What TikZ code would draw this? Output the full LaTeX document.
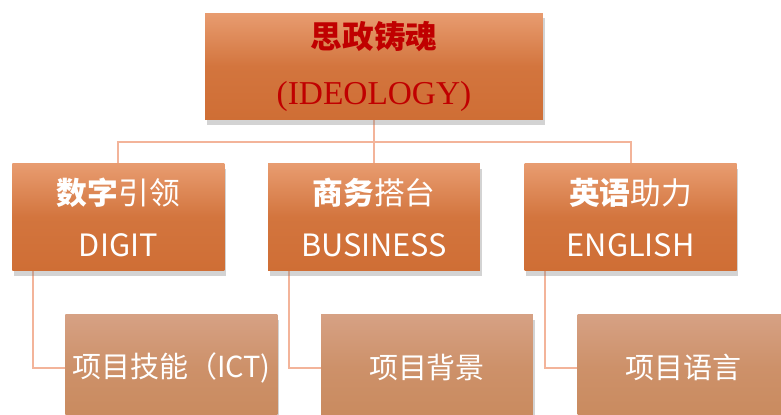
\documentclass[tikz,border=0pt]{standalone}
\usepackage{fontspec}
\setmainfont{Liberation Serif}
\newfontfamily\cjk{Noto Sans CJK SC}
\usetikzlibrary{positioning,shadows,backgrounds}
\definecolor{hitop}{HTML}{E89C70}
\definecolor{hibot}{HTML}{CF6E35}
\definecolor{lotop}{HTML}{D6A184}
\definecolor{lobot}{HTML}{C98A5E}
\definecolor{linkc}{HTML}{F3B49A}
\definecolor{titlered}{HTML}{C00000}

\begin{document}
\begin{tikzpicture}[x=0.02cm,y=-0.02cm,
	orgbox/.style={rectangle,inner sep=0pt,minimum width=4.24cm,minimum height=2.14cm,
		top color=hitop,bottom color=hibot,middle color=hibot!85!hitop,
		drop shadow={shadow xshift=1pt,shadow yshift=-3pt,opacity=0.35},
		text=white,align=center,font=\cjk\fontsize{17.5}{29.5}\selectfont},
	subbox/.style={orgbox,top color=lotop,bottom color=lobot,middle color=lobot!70!lotop,
		font=\cjk\fontsize{16.5}{20}\selectfont},
	link/.style={linkc,line width=1.2pt}]
	\useasboundingbox (0,0) rectangle (781,414);
	\clip (0,0) rectangle (781,414);
	% top level
	\node[orgbox,minimum width=6.76cm,text=titlered,font=\fontsize{19}{31.5}\selectfont] (ideo) at (374,66.5)
		{{\cjk\bfseries\fontsize{18}{18}\selectfont 思政铸魂}\\(IDEOLOGY)};
	% second level
	\node[orgbox,below=0.86cm of ideo] (busi) {{\bfseries 商务}搭台\\BUSINESS};
	\node[orgbox,left=0.86cm of busi] (digi) {{\bfseries 数字}引领\\DIGIT};
	\node[orgbox,right=0.88cm of busi] (engl) {{\bfseries 英语}助力\\ENGLISH};
	% third level
	\node[subbox,below=0.86cm of digi,xshift=1.06cm] (ict) {项目技能（ICT)};
	\node[subbox,below=0.86cm of busi,xshift=1.06cm] (bkgd) {项目背景};
	\node[subbox,below=0.86cm of engl,xshift=1.06cm] (lang) {项目语言};
	\coordinate[below=0.44cm of ideo.south] (hub);
	\begin{scope}[on background layer]
		\draw[link] (ideo.south) -- (busi.north);
		\draw[link] (hub) -| (digi.north);
		\draw[link] (hub) -| (engl.north);
		\draw[link] ([xshift=0.42cm]digi.south west) |- (ict.west);
		\draw[link] ([xshift=0.42cm]busi.south west) |- (bkgd.west);
		\draw[link] ([xshift=0.42cm]engl.south west) |- (lang.west);
	\end{scope}
\end{tikzpicture}
\end{document}
